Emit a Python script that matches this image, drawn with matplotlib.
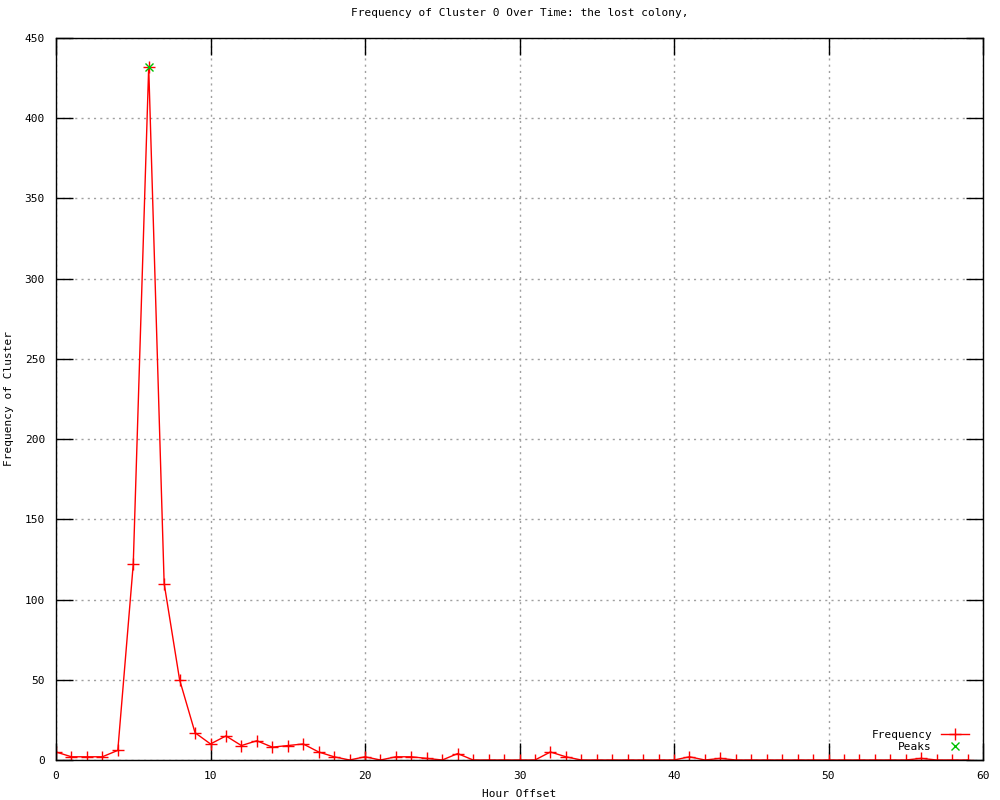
import matplotlib
matplotlib.use("Agg")
import matplotlib.pyplot as plt

hours = list(range(0, 60))
freq = [5, 2, 2, 2, 6, 122, 432, 110, 50, 17,
        10, 15, 9, 12, 8, 9, 10, 5, 2, 0,
        2, 0, 2, 2, 1, 0, 4, 0, 0, 0,
        0, 0, 5, 2, 0, 0, 0, 0, 0, 0,
        0, 2, 0, 1, 0, 0, 0, 0, 0, 0,
        0, 0, 0, 0, 0, 0, 1, 0, 0, 0]
peak_x = [6]
peak_y = [432]

plt.rcParams['font.family'] = ['DejaVu Sans Mono']
fig = plt.figure(figsize=(10, 8), dpi=100)
ax = fig.add_axes([0.056, 0.05, 0.927, 0.9025])

ax.plot(hours, freq, color='#ff0000', lw=1, marker='+', ms=8, mew=1, label='Frequency')
ax.plot(peak_x, peak_y, ls='none', color='#00c000', marker='x', ms=6, mew=1, label='Peaks')

ax.set_xlim(0, 60)
ax.set_ylim(0, 450)
ax.set_xticks(range(0, 61, 10))
ax.set_yticks(range(0, 451, 50))
ax.grid(True, color='#a0a0a0', ls=(0, (1.5, 3)), lw=1)
ax.tick_params(direction='in', length=12, width=1, top=True, right=True, labelsize=8)
ax.tick_params(axis='x', pad=8)
ax.tick_params(axis='y', pad=8)
for s in ax.spines.values():
    s.set_linewidth(1)

ax.set_title('Frequency of Cluster 0 Over Time: the lost colony,', fontsize=8, pad=16)
ax.set_xlabel('Hour Offset', fontsize=8, labelpad=6)
ax.set_ylabel('Frequency of Cluster', fontsize=8, labelpad=8)

ax.legend(loc='lower right', bbox_to_anchor=(0.993, 0.0), frameon=False, markerfirst=False, fontsize=8,
          handlelength=2.5, borderaxespad=0.3, labelspacing=0.2)

fig.savefig('out.png', dpi=100)
